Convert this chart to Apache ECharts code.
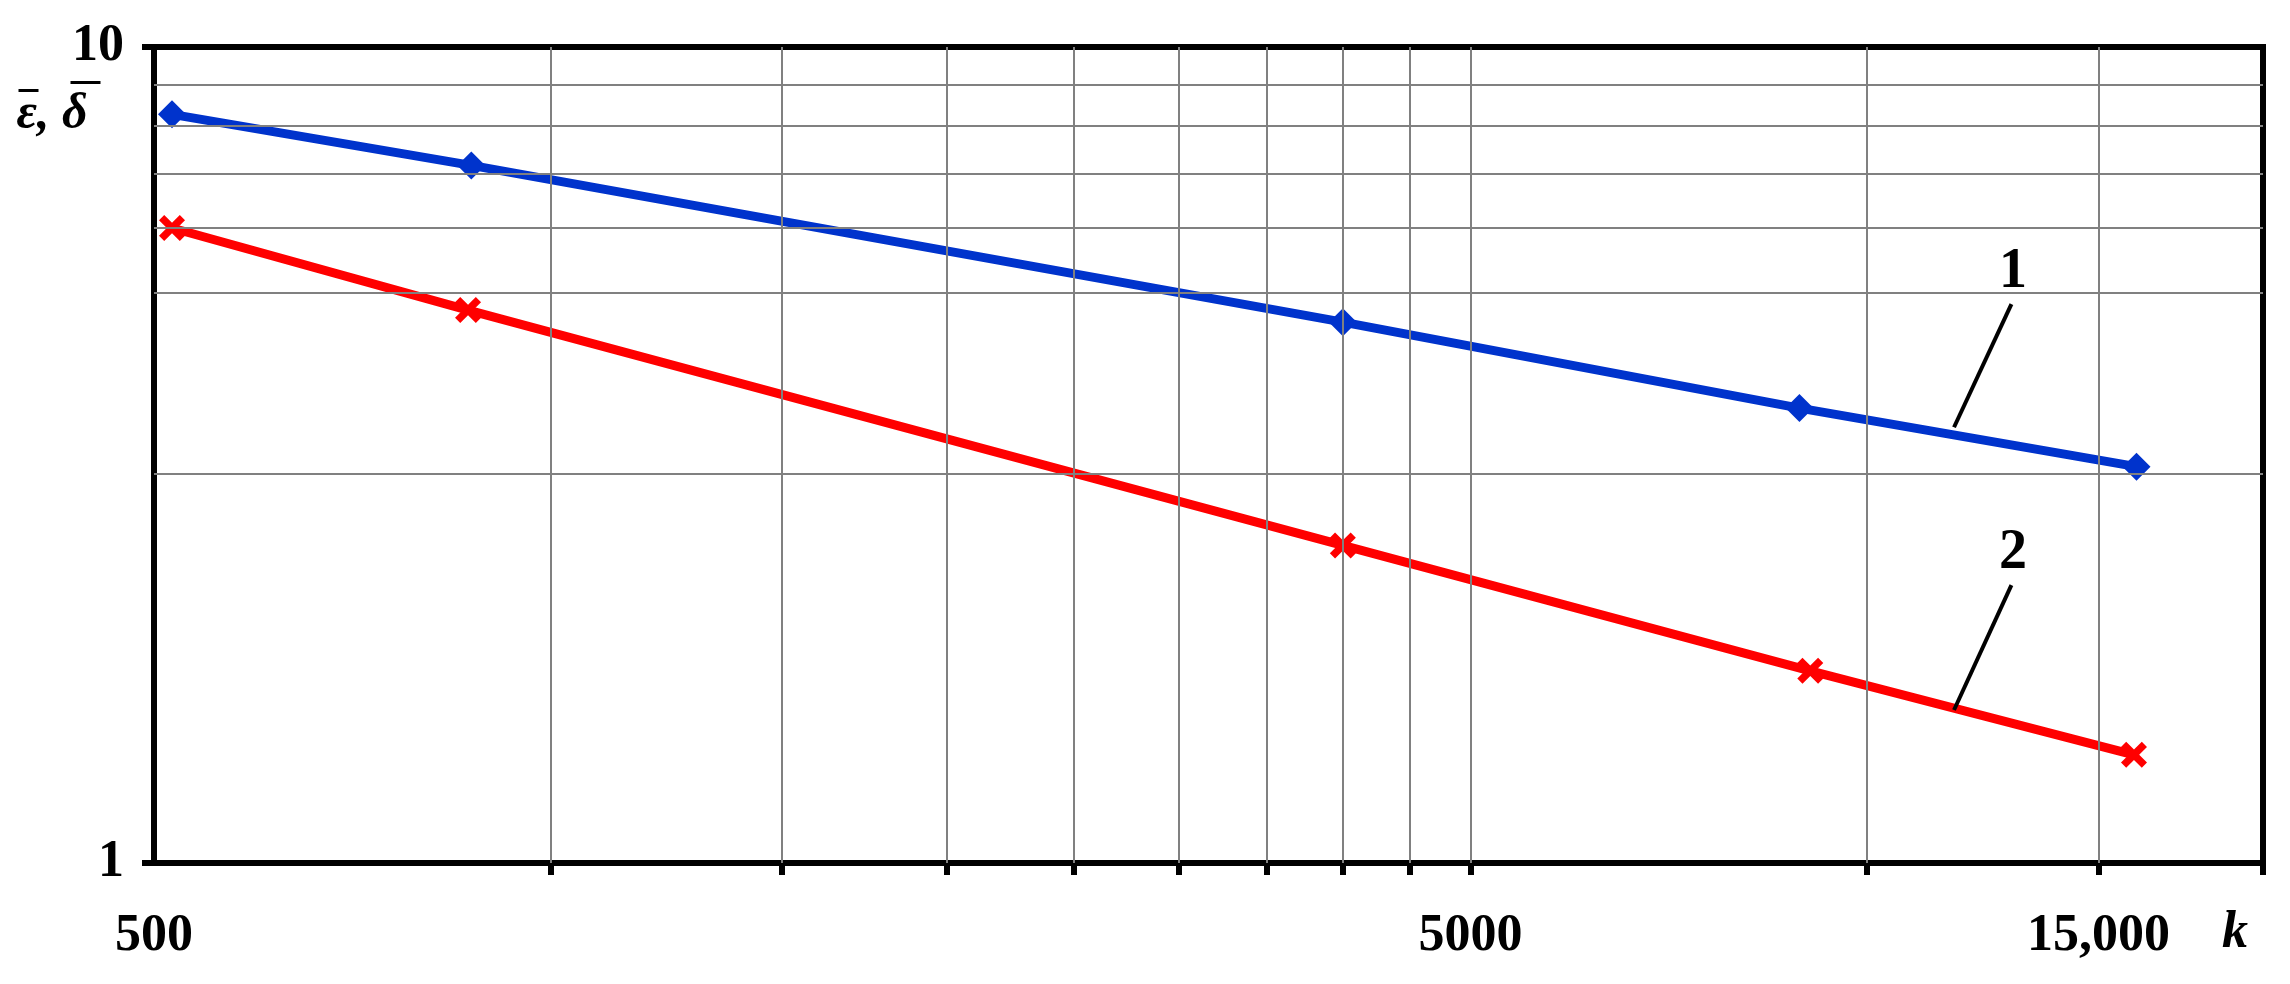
<!DOCTYPE html>
<html>
<head>
<meta charset="utf-8">
<script src="https://cdn.jsdelivr.net/npm/echarts@6/dist/echarts.min.js"></script>
<style>html,body{margin:0;background:#fff}#main{width:2290px;height:984px}</style>
</head>
<body>
<div id="main"></div>
<script>
// curve 1 (blue) and curve 2 (red), log-log
var kBlue = [516, 871, 4000, 8890, 16030];
var valBlue = [8.27, 7.16, 4.60, 3.61, 3.06];
var kRed = [516, 866, 4000, 9060, 15960];
var valRed = [6.0, 4.76, 2.45, 1.72, 1.357];
var xGrid = [1000, 1500, 2000, 2500, 3000, 3500, 4000, 4500, 5000, 10000, 15000];
var yGrid = [3, 5, 6, 7, 8, 9];
var xLabels = [500, 5000, 15000];
var yLabels = [1, 10];
// leader lines for curve labels: [from, to, text]
var leaders = [
  [[11650, 3.42], [12880, 4.84], '1'],
  [[11650, 1.54], [12880, 2.19], '2']
];

var font = '"Liberation Serif", "DejaVu Serif", serif';
var gridLine = {color: '#808080', width: 2, type: 'solid'};

function pairs(xs, ys) { return xs.map(function (x, i) { return [x, ys[i]]; }); }

var markX = 'path://M2,0L5,3L8,0L10,2L7,5L10,8L8,10L5,7L2,10L0,8L3,5L0,2Z';

var myChart = echarts.init(document.getElementById('main'));
myChart.setOption({
  animation: false,
  grid: {left: 154, right: 27, top: 47, bottom: 121, show: true, borderColor: '#000', borderWidth: 6},
  xAxis: {
    type: 'log', logBase: 10, min: 500, max: 20000,
    axisLine: {lineStyle: {color: '#000', width: 6}},
    axisTick: {show: true, customValues: xGrid.concat([20000]), length: 12, lineStyle: {color: '#000', width: 6}},
    axisLabel: {customValues: xLabels, margin: 48, fontFamily: font, fontWeight: 'bold', fontSize: 52, color: '#000',
      formatter: function (v) { return v === 15000 ? '15,000' : String(v); }},
    splitLine: {show: false}
  },
  yAxis: {
    type: 'log', logBase: 10, min: 1, max: 10,
    axisLine: {lineStyle: {color: '#000', width: 6}},
    axisTick: {show: true, customValues: yLabels, length: 12, lineStyle: {color: '#000', width: 6}},
    axisLabel: {customValues: yLabels, margin: 30, fontFamily: font, fontWeight: 'bold', fontSize: 52, color: '#000', verticalAlign: 'middle'},
    splitLine: {show: false}
  },
  graphic: [
    {type: 'text', left: 2222, top: 908, style: {text: 'k', fontFamily: font, fontStyle: 'italic', fontWeight: 'bold', fontSize: 52, fill: '#000'}},
    {type: 'group', left: 16, top: 80, children: [
      {type: 'text', x: 0, y: 12, style: {text: 'ε, δ', fontFamily: font, fontStyle: 'italic', fontWeight: 'bold', fontSize: 50, fill: '#000'}},
      {type: 'line', shape: {x1: 2, y1: 12, x2: 22, y2: 12}, style: {stroke: '#000', lineWidth: 3}},
      {type: 'line', shape: {x1: 54, y1: 4, x2: 84, y2: 4}, style: {stroke: '#000', lineWidth: 3}}
    ]}
  ],
  series: [
    {
      type: 'line', data: [], silent: true,
      markLine: {
        silent: true, symbol: 'none', animation: false, label: {show: false},
        lineStyle: gridLine,
        data: xGrid.map(function (v) { return {xAxis: v}; }).concat(yGrid.map(function (v) { return {yAxis: v}; }))
      }
    },
    {
      type: 'line', data: pairs(kBlue, valBlue),
      lineStyle: {color: '#0033cc', width: 9},
      itemStyle: {color: '#0033cc'},
      symbol: 'diamond', symbolSize: 28,
      markLine: {
        silent: true, symbol: 'none',
        lineStyle: {color: '#000', width: 4, type: 'solid'},
        label: {show: true, position: 'end', formatter: leaders[0][2], fontFamily: font, fontWeight: 'bold', fontSize: 56, color: '#000', distance: 4},
        data: [[{coord: leaders[0][0]}, {coord: leaders[0][1]}]]
      }
    },
    {
      type: 'line', data: pairs(kRed, valRed),
      lineStyle: {color: '#ff0000', width: 9},
      itemStyle: {color: '#ff0000'},
      symbol: markX, symbolSize: 26,
      markLine: {
        silent: true, symbol: 'none',
        lineStyle: {color: '#000', width: 4, type: 'solid'},
        label: {show: true, position: 'end', formatter: leaders[1][2], fontFamily: font, fontWeight: 'bold', fontSize: 56, color: '#000', distance: 4},
        data: [[{coord: leaders[1][0]}, {coord: leaders[1][1]}]]
      }
    }
  ]
});
</script>
</body>
</html>
